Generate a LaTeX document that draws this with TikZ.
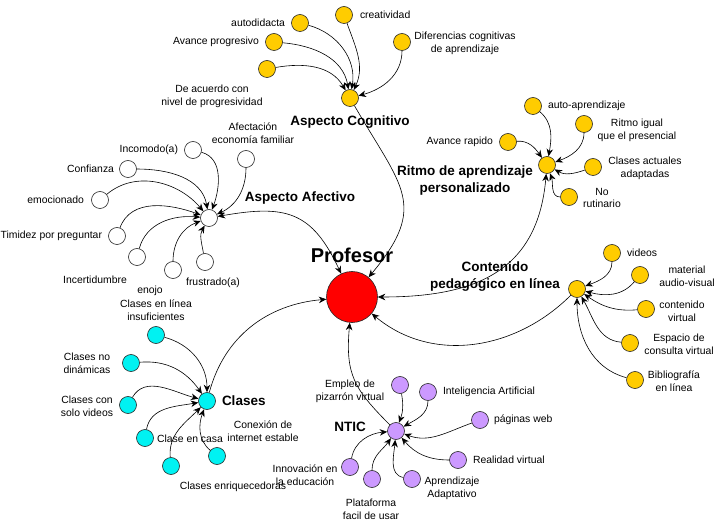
\documentclass[tikz,border=0pt]{standalone}
\usepackage{fontspec}
\setmainfont{Liberation Sans}
\usetikzlibrary{arrows.meta,positioning}
\definecolor{amarillo}{HTML}{FFCC00}
\definecolor{celeste}{HTML}{00F2F2}
\definecolor{lila}{HTML}{CC99FF}

\begin{document}
\begin{tikzpicture}[x=1pt,y=1pt,align=center]
\tikzstyle{hoja}=[circle,draw=black!85,line width=0.6pt,minimum size=17pt,inner sep=0pt]
\tikzstyle{centro}=[circle,draw=black!85,line width=0.6pt,fill=red,minimum size=51pt,inner sep=0pt]
\tikzstyle{texto}=[font=\fontsize{10.4}{12.8}\selectfont,inner sep=1pt]
\tikzstyle{titulo}=[font=\bfseries\fontsize{13.5}{17}\selectfont,inner sep=1pt]
\tikzstyle{flecha}=[-{Stealth[length=7.5pt,width=6.5pt]},line width=0.6pt]
\tikzstyle{doble}=[{Stealth[length=7.5pt,width=6.5pt]}-{Stealth[length=7.5pt,width=6.5pt]},line width=0.6pt]

\useasboundingbox (0,0) rectangle (723,520);

\node[centro] (P) at (352,223) {};
\node[font=\bfseries\fontsize{20}{24}\selectfont] (lP) at (352,265) {Profesor};

\node[hoja,fill=amarillo] (C) at (350,422) {};
\node[titulo] (lC) at (350,398) {Aspecto Cognitivo};
\node[hoja,fill=amarillo] (c1) at (300,497) {};
\node[hoja,fill=amarillo] (c2) at (344,505) {};
\node[hoja,fill=amarillo] (c3) at (274,478) {};
\node[hoja,fill=amarillo] (c4) at (267,451) {};
\node[hoja,fill=amarillo] (c5) at (402,478) {};
\node[texto,left=5pt of c1] (lc1) {autodidacta};
\node[texto,right=6pt of c2] (lc2) {creatividad};
\node[texto,left=5pt of c3] (lc3) {Avance progresivo};
\node[texto] (lc4) at (212,424) {De acuerdo con\\nivel de progresividad};
\node[texto] (lc5) at (465,477) {Diferencias cognitivas\\de aprendizaje};

\node[hoja,fill=amarillo] (R) at (547,355) {};
\node[titulo] (lR) at (465,339) {Ritmo de aprendizaje\\personalizado};
\node[hoja,fill=amarillo] (r1) at (533,414) {};
\node[hoja,fill=amarillo] (r2) at (584,396) {};
\node[hoja,fill=amarillo] (r3) at (508,378) {};
\node[hoja,fill=amarillo] (r4) at (593,353) {};
\node[hoja,fill=amarillo] (r5) at (569,323) {};
\node[texto,right=5pt of r1] (lr1) {auto-aprendizaje};
\node[texto] (lr2) at (637,390) {Ritmo igual\\que el presencial};
\node[texto,left=5pt of r3] (lr3) {Avance rapido};
\node[texto] (lr4) at (645,352) {Clases actuales\\adaptadas};
\node[texto] (lr5) at (602,322) {No\\rutinario};

\node[hoja,fill=amarillo] (N) at (577,231) {};
\node[titulo] (lN) at (495,243) {Contenido\\pedagógico en línea};
\node[hoja,fill=amarillo] (n1) at (612,267) {};
\node[hoja,fill=amarillo] (n2) at (640,245) {};
\node[hoja,fill=amarillo] (n3) at (646,211) {};
\node[hoja,fill=amarillo] (n4) at (630,177) {};
\node[hoja,fill=amarillo] (n5) at (635,140) {};
\node[texto,right=5pt of n1] (ln1) {videos};
\node[texto] (ln2) at (687,244) {material\\audio-visual};
\node[texto] (ln3) at (682,209) {contenido\\virtual};
\node[texto] (ln4) at (679,176) {Espacio de\\consulta virtual};
\node[texto] (ln5) at (674,139) {Bibliografía\\en línea};

\node[hoja,fill=white] (A) at (209,302) {};
\node[titulo] (lA) at (300,322) {Aspecto Afectivo};
\node[hoja,fill=white] (a1) at (193,370) {};
\node[hoja,fill=white] (a2) at (246,361) {};
\node[hoja,fill=white] (a3) at (128,351) {};
\node[hoja,fill=white] (a4) at (100,320) {};
\node[hoja,fill=white] (a5) at (117,284) {};
\node[hoja,fill=white] (a6) at (137,263) {};
\node[hoja,fill=white] (a7) at (173,250) {};
\node[hoja,fill=white] (a8) at (205,258) {};
\node[texto,left=5pt of a1] (la1) {Incomodo(a)};
\node[texto] (la2) at (253,387) {Afectación\\economía familiar};
\node[texto,left=4pt of a3] (la3) {Confianza};
\node[texto,left=6pt of a4] (la4) {emocionado};
\node[texto,left=5pt of a5] (la5) {Timidez por preguntar};
\node[texto] (la6) at (95,240) {Incertidumbre};
\node[texto] (la7) at (150,229) {enojo};
\node[texto] (la8) at (213,237) {frustrado(a)};

\node[hoja,fill=celeste] (K) at (207,119) {};
\node[titulo,right=5pt of K] (lK) {Clases};
\node[hoja,fill=celeste] (k1) at (156,185) {};
\node[hoja,fill=celeste] (k2) at (131,157) {};
\node[hoja,fill=celeste] (k3) at (128,115) {};
\node[hoja,fill=celeste] (k4) at (145,82) {};
\node[hoja,fill=celeste] (k5) at (171,54) {};
\node[hoja,fill=celeste] (k6) at (217,64) {};
\node[texto] (lk1) at (156,210) {Clases en línea\\insuficientes};
\node[texto] (lk2) at (87,157) {Clases no\\dinámicas};
\node[texto] (lk3) at (87,114) {Clases con\\solo videos};
\node[texto] (lk4) at (190,81) {Clase en casa};
\node[texto] (lk5) at (233,33) {Clases enriquecedoras};
\node[texto] (lk6) at (263,89) {Conexión de\\internet estable};

\node[hoja,fill=lila] (T) at (396,89) {};
\node[titulo] (lT) at (350,93) {NTIC};
\node[hoja,fill=lila] (t1) at (400,135) {};
\node[hoja,fill=lila] (t2) at (428,128) {};
\node[hoja,fill=lila] (t3) at (480,100) {};
\node[hoja,fill=lila] (t4) at (458,60) {};
\node[hoja,fill=lila] (t5) at (412,41) {};
\node[hoja,fill=lila] (t6) at (372,41) {};
\node[hoja,fill=lila] (t7) at (350,53) {};
\node[texto] (lt1) at (350,129) {Empleo de\\pizarrón virtual};
\node[texto,right=5pt of t2] (lt2) {Inteligencia Artificial};
\node[texto,right=4pt of t3] (lt3) {páginas web};
\node[texto,right=5pt of t4] (lt4) {Realidad virtual};
\node[texto] (lt5) at (452,32) {Aprendizaje\\Adaptativo};
\node[texto] (lt6) at (371,11) {Plataforma\\facil de usar};
\node[texto] (lt7) at (305,45) {Innovación en\\la educación};

\path[]
  (c1) edge [flecha,out=-15,in=80] (C)
  (c2) edge [flecha,out=-70,in=65] (C)
  (c3) edge [flecha,out=-5,in=100] (C)
  (c4) edge [flecha,out=10,in=120] (C)
  (c5) edge [flecha,out=-90,in=15] (C)
  (C) edge [flecha,out=-60,in=50,looseness=1.4] (P);

\path[]
  (r1) edge [flecha,out=-40,in=80] (R)
  (r2) edge [flecha,out=-90,in=20] (R)
  (r3) edge [flecha,out=5,in=125] (R)
  (r4) edge [flecha,out=200,in=-30] (R)
  (r5) edge [flecha,out=180,in=-70] (R)
  (R) edge [doble,out=-95,in=0,looseness=1.2] (P);

\path[]
  (n1) edge [flecha,out=-90,in=20] (N)
  (n2) edge [flecha,out=-130,in=-15] (N)
  (n3) edge [flecha,out=185,in=-35] (N)
  (n4) edge [flecha,out=175,in=-60] (N)
  (n5) edge [flecha,out=165,in=-90] (N)
  (N) edge [flecha,out=-135,in=-40] (P);

\path[]
  (a1) edge [flecha,out=-15,in=70] (A)
  (a2) edge [flecha,out=-90,in=25] (A)
  (a3) edge [flecha,out=0,in=100] (A)
  (a4) edge [flecha,out=40,in=130] (A)
  (a5) edge [flecha,out=70,in=160] (A)
  (a6) edge [flecha,out=75,in=175] (A)
  (a7) edge [flecha,out=90,in=200] (A)
  (a8) edge [flecha,out=100,in=240] (A)
  (A) edge [doble,out=10,in=115,looseness=1.3] (P);

\path[]
  (k1) edge [flecha,out=-15,in=90] (K)
  (k2) edge [flecha,out=5,in=125] (K)
  (k3) edge [flecha,out=60,in=165] (K)
  (k4) edge [flecha,out=80,in=190] (K)
  (k5) edge [flecha,out=95,in=225] (K)
  (k6) edge [flecha,out=140,in=250] (K)
  (K) edge [flecha,out=75,in=185] (P);

\path[]
  (t1) edge [flecha,out=-80,in=70] (T)
  (t2) edge [flecha,out=-90,in=30] (T)
  (t3) edge [flecha,out=200,in=-20] (T)
  (t4) edge [flecha,out=180,in=-50] (T)
  (t5) edge [flecha,out=170,in=-95] (T)
  (t6) edge [flecha,out=90,in=-125] (T)
  (t7) edge [flecha,out=80,in=185] (T)
  (T) edge [flecha,out=135,in=-95,looseness=1.2] (P);
\end{tikzpicture}
\end{document}
